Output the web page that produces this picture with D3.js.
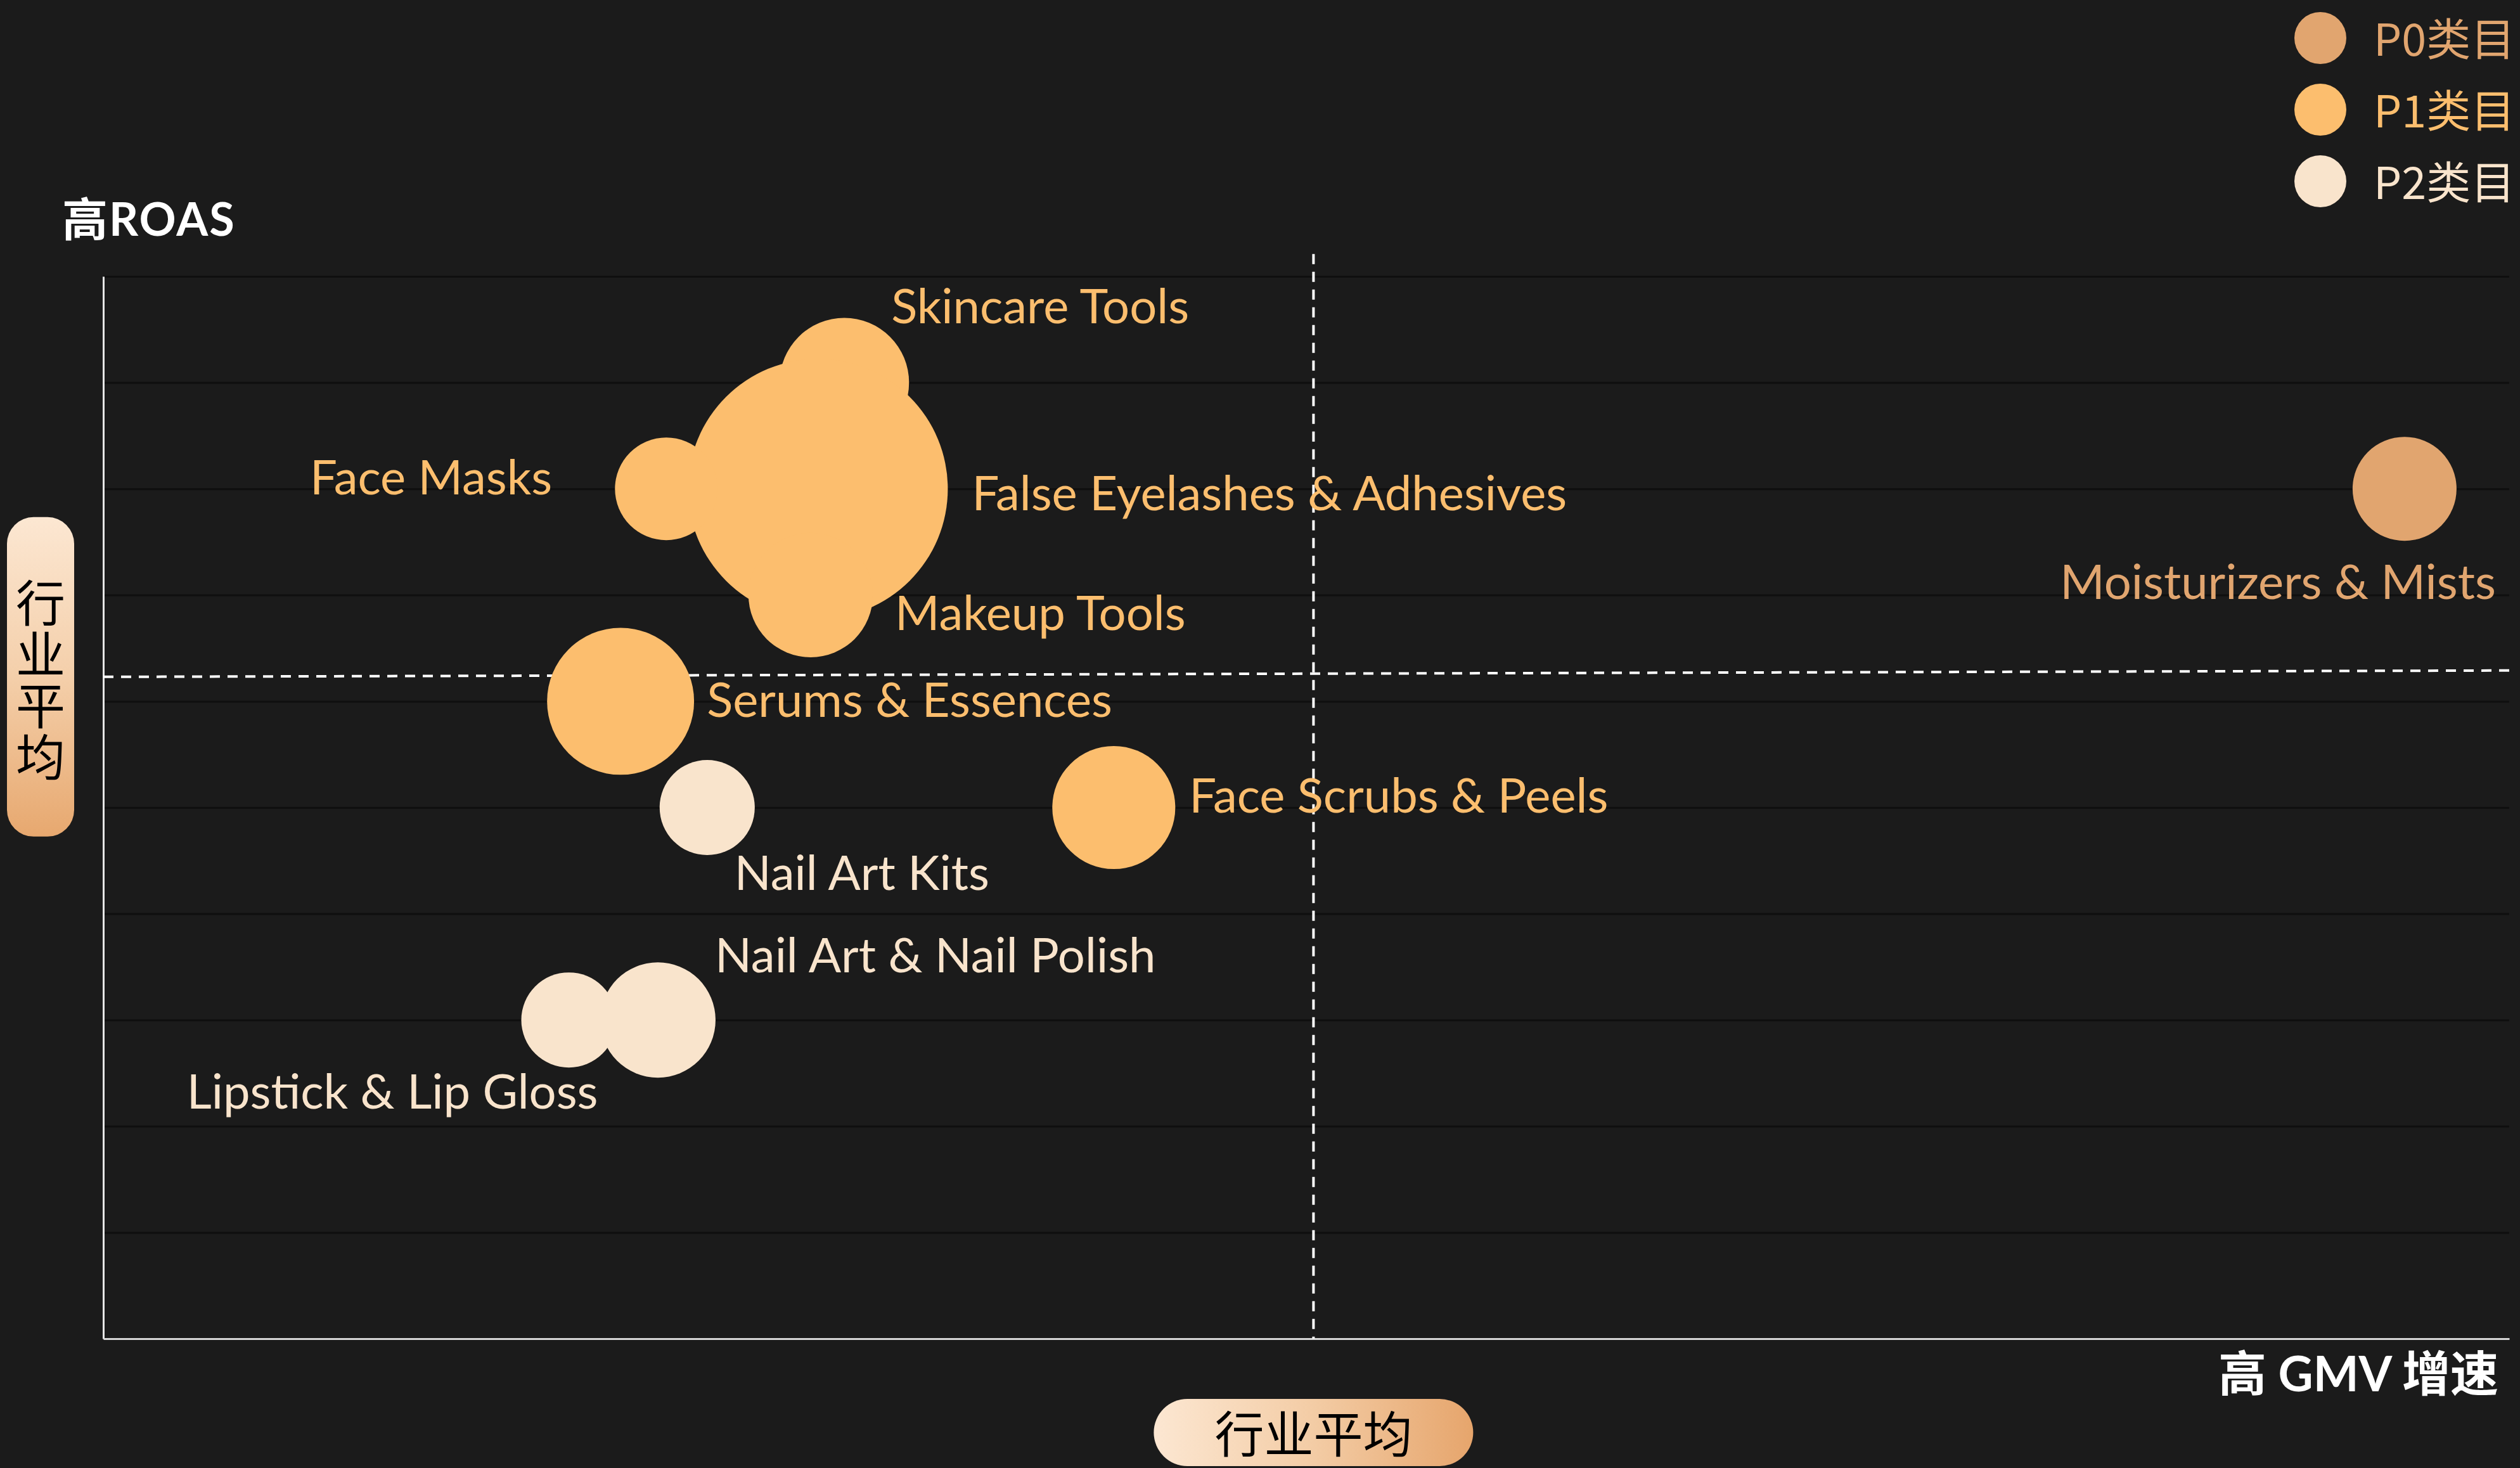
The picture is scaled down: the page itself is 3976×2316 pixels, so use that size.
<!DOCTYPE html>
<html>
<head>
<meta charset="utf-8">
<script src="https://cdn.jsdelivr.net/npm/d3@7/dist/d3.min.js"></script>
<style>
  html, body { margin: 0; padding: 0; background: #1b1b1b; }
  svg { display: block; }
</style>
</head>
<body>
<svg id="chart" width="3976" height="2316"></svg>
<script>
// ---------- DATA ----------
const names = [
  "Skincare Tools",
  "False Eyelashes & Adhesives",
  "Face Masks",
  "Makeup Tools",
  "Serums & Essences",
  "Nail Art Kits",
  "Face Scrubs & Peels",
  "Nail Art & Nail Polish",
  "Lipstick & Lip Gloss",
  "Moisturizers & Mists"
];
const gmvGrowth = [30.8, 29.7, 23.4, 29.4, 21.5, 25.1, 42.0, 23.05, 19.35, 95.65];
const roas      = [9, 8, 8, 7, 6, 5, 5, 3, 3, 8];
const bubbleSize = [24.8, 100, 15.6, 22.9, 32.0, 13.4, 22.4, 19.7, 13.4, 16.0];
const tier      = ["P1", "P1", "P1", "P1", "P1", "P2", "P1", "P2", "P2", "P0"];

const legendTiers  = ["P0", "P1", "P2"];
const legendLabels = ["P0类目", "P1类目", "P2类目"];

const yTicks = [0, 1, 2, 3, 4, 5, 6, 7, 8, 9, 10];
const xDomain = [0, 100];
const yDomain = [0, 10];

// industry-average reference lines
const avgGmv = 50.3;             // vertical dashed line
const avgGmvSpan = [0, 10.21];   // y extent of the vertical line
const avgRoasEnds = [6.23, 6.29]; // horizontal dashed line at x min / x max

const yTitle = "高ROAS";
const xTitle = "高 GMV 增速";
const avgLabel = "行业平均";

// ---------- STYLE / LAYOUT ----------
const colors = { P0: "#E1A56F", P1: "#FCBE6E", P2: "#F9E4CC" };
const W = 3976, H = 2316;
const plot = { left: 163, right: 3959, top: 436, bottom: 2112 };

// label placement relative to bubble centre: [dx, dy, anchor]
const labelPlace = {
  "Skincare Tools": [74, -94, "start"],
  "False Eyelashes & Adhesives": [243, 34, "start"],
  "Face Masks": [-180, 9, "end"],
  "Makeup Tools": [133, 55, "start"],
  "Serums & Essences": [136, 25, "start"],
  "Nail Art Kits": [43, 130, "start"],
  "Face Scrubs & Peels": [119, 8, "start"],
  "Nail Art & Nail Polish": [90, -75, "start"],
  "Lipstick & Lip Gloss": [46, 140, "end"],
  "Moisturizers & Mists": [144, 174, "end"]
};

const svg = d3.select("#chart");
svg.append("rect").attr("width", W).attr("height", H).attr("fill", "#1b1b1b");

const defs = svg.append("defs");
const gv = defs.append("linearGradient").attr("id", "gradV")
  .attr("x1", 0).attr("y1", 0).attr("x2", 0).attr("y2", 1);
gv.append("stop").attr("offset", "0%").attr("stop-color", "#FCE7D2");
gv.append("stop").attr("offset", "50%").attr("stop-color", "#F4CFAA");
gv.append("stop").attr("offset", "100%").attr("stop-color", "#E7A86F");
const gh = defs.append("linearGradient").attr("id", "gradH")
  .attr("x1", 0).attr("y1", 0).attr("x2", 1).attr("y2", 0);
gh.append("stop").attr("offset", "0%").attr("stop-color", "#FCE7D2");
gh.append("stop").attr("offset", "50%").attr("stop-color", "#F3CCA5");
gh.append("stop").attr("offset", "100%").attr("stop-color", "#E6A56C");

const x = d3.scaleLinear().domain(xDomain).range([plot.left, plot.right]);
const y = d3.scaleLinear().domain(yDomain).range([plot.bottom, plot.top]);
const r = d3.scaleSqrt().domain([0, 100]).range([0, 205]);

// gridlines
const grid = d3.axisLeft(y).tickValues(yTicks).tickSize(-(plot.right - plot.left)).tickFormat("");
const gg = svg.append("g").attr("transform", `translate(${plot.left},0)`).call(grid);
gg.select(".domain").remove();
gg.selectAll(".tick line").attr("stroke", "#0f0f0f").attr("stroke-width", 3);

// axis lines
const xAxis = d3.axisBottom(x).tickValues([]).tickSizeOuter(0);
const xa = svg.append("g").attr("transform", `translate(0,${plot.bottom})`).call(xAxis);
xa.select(".domain").attr("stroke", "#d6d6d6").attr("stroke-width", 3);
const yAxis = d3.axisLeft(y).tickValues([]).tickSizeOuter(0);
const ya = svg.append("g").attr("transform", `translate(${plot.left},0)`).call(yAxis);
ya.select(".domain").attr("stroke", "#e6e6e6").attr("stroke-width", 3);

// reference lines
svg.append("line")
  .attr("x1", x(avgGmv)).attr("x2", x(avgGmv))
  .attr("y1", y(avgGmvSpan[1])).attr("y2", y(avgGmvSpan[0]))
  .attr("stroke", "#ffffff").attr("stroke-width", 4).attr("stroke-dasharray", "16 12");
svg.append("line")
  .attr("x1", x(xDomain[0])).attr("x2", x(xDomain[1]))
  .attr("y1", y(avgRoasEnds[0])).attr("y2", y(avgRoasEnds[1]))
  .attr("stroke", "#ffffff").attr("stroke-width", 4).attr("stroke-dasharray", "16 12");

// bubbles
const data = names.map((n, i) => ({ name: n, gx: gmvGrowth[i], ry: roas[i], s: bubbleSize[i], t: tier[i] }));
svg.append("g").selectAll("circle").data(data).join("circle")
  .attr("cx", d => x(d.gx)).attr("cy", d => y(d.ry)).attr("r", d => r(d.s))
  .attr("fill", d => colors[d.t]);

// labels
svg.append("g").selectAll("text").data(data).join("text")
  .attr("x", d => x(d.gx) + labelPlace[d.name][0])
  .attr("y", d => y(d.ry) + labelPlace[d.name][1])
  .attr("text-anchor", d => labelPlace[d.name][2])
  .attr("fill", d => colors[d.t])
  .attr("font-family", "Lato, 'Noto Sans', sans-serif")
  .attr("font-size", 76)
  .text(d => d.name);

// legend
const lg = svg.append("g");
legendTiers.forEach((t, i) => {
  const cy = 60 + i * 113;
  lg.append("circle").attr("cx", 3661).attr("cy", cy).attr("r", 41).attr("fill", colors[t]);
  lg.append("text").attr("x", 3745).attr("y", cy + 28)
    .attr("fill", colors[t])
    .attr("font-family", "'Noto Sans CJK SC', 'Noto Sans', sans-serif")
    .attr("font-size", 70)
    .text(legendLabels[i]);
});

// axis titles
svg.append("text").attr("x", 98).attr("y", 372)
  .attr("fill", "#ffffff").attr("font-weight", "bold")
  .attr("font-family", "Lato, 'Noto Sans CJK SC', sans-serif")
  .attr("font-size", 72).attr("letter-spacing", 2).text(yTitle);
svg.append("text").attr("x", 3942).attr("y", 2195).attr("text-anchor", "end")
  .attr("fill", "#ffffff").attr("font-weight", "bold")
  .attr("font-family", "Lato, 'Noto Sans CJK SC', sans-serif")
  .attr("font-size", 76).text(xTitle);

// average pills
const pillYc = y(avgRoasEnds[0]);
const vp = svg.append("g");
vp.append("rect").attr("x", 11).attr("y", pillYc - 252).attr("width", 106).attr("height", 504)
  .attr("rx", 42).attr("fill", "url(#gradV)");
vp.append("text").attr("x", 64).attr("y", pillYc + 7)
  .attr("text-anchor", "middle")
  .style("writing-mode", "vertical-rl")
  .attr("letter-spacing", 3)
  .attr("fill", "#000000")
  .attr("font-family", "'Noto Sans CJK SC', sans-serif")
  .attr("font-size", 78).text(avgLabel);
const pillXc = x(avgGmv);
const hp = svg.append("g");
hp.append("rect").attr("x", pillXc - 252).attr("y", 2207).attr("width", 504).attr("height", 106)
  .attr("rx", 53).attr("fill", "url(#gradH)");
hp.append("text").attr("x", pillXc).attr("y", 2258)
  .attr("text-anchor", "middle").attr("dominant-baseline", "central")
  .attr("fill", "#000000")
  .attr("font-family", "'Noto Sans CJK SC', sans-serif")
  .attr("font-size", 78).text(avgLabel);
</script>
</body>
</html>
